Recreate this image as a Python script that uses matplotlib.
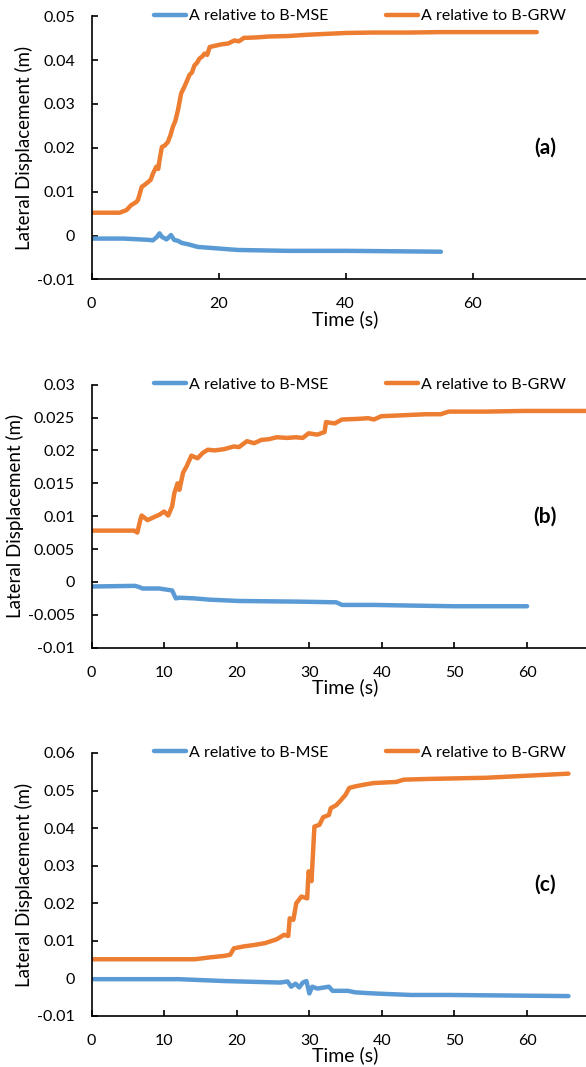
import matplotlib
matplotlib.use("Agg")
import matplotlib.pyplot as plt
from matplotlib.ticker import MultipleLocator, FuncFormatter

plt.rcParams['font.family'] = ['Lato', 'DejaVu Sans']
plt.rcParams['axes.unicode_minus'] = False

BLUE = '#5B9BD5'
ORANGE = '#ED7D31'

# panel (a)
ta_grw = [0, 4.4, 5.5, 6.2, 7.0, 7.3, 7.9, 8.3, 8.9, 9.3, 9.65, 10.2, 10.5, 10.7, 11.07, 11.5,
          12.0, 12.4, 12.8, 13.2, 13.6, 14.1, 14.6, 15.0, 15.4, 15.8, 16.2, 16.6, 17.0, 17.4,
          17.8, 18.2, 18.6, 19.5, 20.4, 21.5, 22.5, 23.2, 24.0, 24.6, 26, 28, 30.9, 34, 37, 40,
          44.4, 50, 55, 60, 65, 70.1]
ya_grw = [0.0052, 0.0052, 0.0058, 0.0069, 0.0076, 0.0081, 0.0111, 0.0115, 0.0122, 0.0127, 0.0141,
          0.0157, 0.0152, 0.0172, 0.0202, 0.0205, 0.0213, 0.0228, 0.0248, 0.0262, 0.0286, 0.0324,
          0.0339, 0.0352, 0.0366, 0.0372, 0.0388, 0.0394, 0.0404, 0.0408, 0.0415, 0.0412, 0.0430,
          0.0433, 0.0436, 0.0438, 0.0445, 0.0443, 0.0451, 0.0451, 0.0452, 0.0454, 0.0455, 0.0458,
          0.0460, 0.0462, 0.0463, 0.0463, 0.0464, 0.0464, 0.0464, 0.0464]
ta_mse = [0, 5, 7.8, 9.0, 9.65, 10.3, 10.7, 11.0, 11.2, 11.8, 12.5, 13.0, 13.6, 14.2, 15.2, 16.7,
          19.4, 23.0, 30.9, 40, 48, 55]
ya_mse = [-0.0007, -0.0007, -0.0009, -0.0010, -0.0011, -0.0003, 0.0005, -0.0002, -0.0004, -0.0009,
          0.0001, -0.0010, -0.0012, -0.0017, -0.0020, -0.0026, -0.0029, -0.0033, -0.0035, -0.0035,
          -0.0036, -0.0037]

# panel (b)
tb_grw = [0, 5.9, 6.3, 6.7, 6.9, 7.7, 8.5, 9.3, 10.0, 10.55, 11.1, 11.4, 11.85, 12.1, 12.6, 13.1,
          13.75, 14.6, 15.3, 16.0, 17.0, 18.3, 19.6, 20.3, 21.4, 22.4, 23.4, 24.4, 25.5, 27.0, 28.1,
          29.1, 29.9, 31.1, 32.1, 32.3, 33.5, 34.5, 36.8, 38.1, 38.9, 39.9, 42.0, 44.0, 46.1, 48.1,
          49.2, 50.7, 54.3, 59.5, 65, 70]
yb_grw = [0.0078, 0.0078, 0.0075, 0.0094, 0.0101, 0.0094, 0.0098, 0.0102, 0.0107, 0.0101, 0.0115,
          0.0135, 0.0150, 0.0140, 0.0166, 0.0176, 0.0192, 0.0188, 0.0196, 0.0201, 0.0200, 0.0202,
          0.0206, 0.0205, 0.0214, 0.0211, 0.0216, 0.0217, 0.0220, 0.0219, 0.0220, 0.0219, 0.0226,
          0.0224, 0.0228, 0.0243, 0.0241, 0.0247, 0.0248, 0.0249, 0.0247, 0.0252, 0.0253, 0.0254,
          0.0255, 0.0255, 0.0259, 0.0259, 0.0259, 0.0260, 0.0260, 0.0260]
tb_mse = [0, 6.0, 6.6, 7.0, 9.3, 11.1, 11.6, 12.1, 14.1, 16.3, 20.3, 28.6, 33.7, 34.5, 38.9, 44, 50, 60]
yb_mse = [-0.0007, -0.0006, -0.0008, -0.0010, -0.0010, -0.0013, -0.0025, -0.0024, -0.0025, -0.0027,
          -0.0029, -0.0030, -0.0031, -0.0035, -0.0035, -0.0036, -0.0037, -0.0037]

# panel (c)
tc_grw = [0, 14.2, 16.3, 18.3, 19.1, 19.6, 20.9, 22.4, 23.9, 25.5, 26.5, 27.1, 27.3, 27.8, 28.2,
          28.9, 29.7, 29.9, 30.3, 30.7, 31.4, 31.9, 32.7, 32.95, 33.7, 34.2, 35.0, 35.5, 36.3, 37.6,
          38.9, 42.0, 43.0, 46.6, 54.3, 65.7]
yc_grw = [0.0051, 0.0051, 0.0056, 0.0060, 0.0063, 0.0080, 0.0085, 0.0089, 0.0094, 0.0104, 0.0116,
          0.0113, 0.0160, 0.0156, 0.0200, 0.0218, 0.0213, 0.0285, 0.0259, 0.0404, 0.0409, 0.0429,
          0.0435, 0.0453, 0.0461, 0.0471, 0.0489, 0.0507, 0.0511, 0.0516, 0.0520, 0.0523, 0.0529,
          0.0531, 0.0534, 0.0545]
tc_mse = [0, 12, 18.3, 26.0, 27.0, 27.5, 28.1, 28.6, 29.1, 29.6, 30.0, 30.4, 31.1, 32.7, 33.2, 35.3,
          36.3, 38.9, 41.4, 44.0, 49.2, 65.7]
yc_mse = [-0.0002, -0.0002, -0.0007, -0.0011, -0.0008, -0.0022, -0.0014, -0.0024, -0.0011, -0.0007,
          -0.0040, -0.0022, -0.0027, -0.0022, -0.0033, -0.0033, -0.0037, -0.0040, -0.0042, -0.0044,
          -0.0044, -0.0047]

xticks_a = [0, 20, 40, 60]
xticks_bc = [0, 10, 20, 30, 40, 50, 60]

panels = [
    ('(a)', ta_mse, ya_mse, ta_grw, ya_grw, 0.7382, 80, xticks_a, (-0.01, 0.05), 0.01),
    ('(b)', tb_mse, yb_mse, tb_grw, yb_grw, 0.3930, 70, xticks_bc, (-0.01, 0.03), 0.005),
    ('(c)', tc_mse, yc_mse, tc_grw, yc_grw, 0.0478, 70, xticks_bc, (-0.01, 0.06), 0.01),
]

fig = plt.figure(figsize=(5.86, 10.67), dpi=100)

fmt = FuncFormatter(lambda v, p: '%g' % round(v, 4))

for tag, tm, ym, tg, yg, bottom, xmax, xt, ylim, ystep in panels:
    ax = fig.add_axes([0.1563, bottom, 0.867, 0.2465])
    ax.plot(tm, ym, color=BLUE, lw=3.2, label='A relative to B-MSE', solid_capstyle='round')
    ax.plot(tg, yg, color=ORANGE, lw=3.2, label='A relative to B-GRW', solid_capstyle='round')
    ax.set_xlim(0, xmax)
    ax.set_ylim(*ylim)
    ax.set_xticks(xt)
    ax.yaxis.set_major_locator(MultipleLocator(ystep))
    ax.yaxis.set_major_formatter(fmt)
    ax.spines['top'].set_visible(False)
    ax.spines['right'].set_visible(False)
    for s in ('left', 'bottom'):
        ax.spines[s].set_linewidth(1.2)
    ax.tick_params(direction='in', length=4, width=1.2, labelsize=11.5)
    ax.tick_params(axis='x', pad=13)
    ax.tick_params(axis='y', pad=12)
    ax.set_xlabel('Time (s)', fontsize=14, labelpad=-1)
    ax.set_ylabel('Lateral Displacement (m)', fontsize=13.5, labelpad=3)
    ax.text(0.893, 0.5, tag, transform=ax.transAxes, fontsize=15, fontweight='bold',
            ha='center', va='center')
    ax.legend(ncol=2, loc='center', bbox_to_anchor=(0.528, 1.0), frameon=False, fontsize=11.5,
              handlelength=2.0, handletextpad=0.2, columnspacing=3.6, borderpad=0)

fig.savefig('out.png', dpi=100)
